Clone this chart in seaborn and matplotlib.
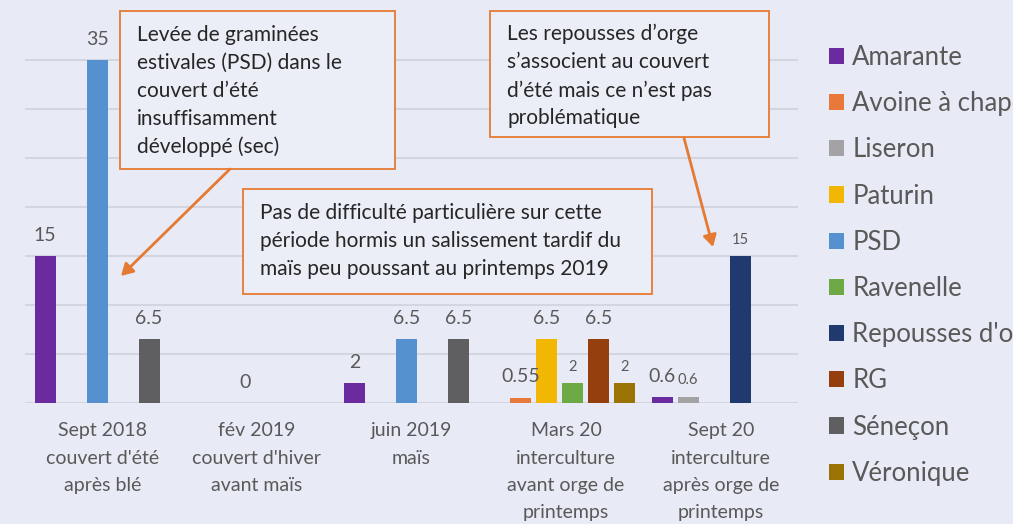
import pandas as pd
import matplotlib.pyplot as plt
import seaborn as sns
from matplotlib.patches import Rectangle, FancyArrowPatch

# Data
groups = ["Sept 2018\ncouvert d'été\naprès blé",
          "fév 2019\ncouvert d'hiver\navant maïs",
          "juin 2019\nmaïs",
          "Mars 20\ninterculture\navant orge de\nprintemps",
          "Sept 20\ninterculture\naprès orge de\nprintemps"]
species = ["Amarante", "Avoine à chapelet", "Liseron", "Paturin", "PSD",
           "Ravenelle", "Repousses d'orge", "RG", "Séneçon", "Véronique"]
colors = ["#6B2A9E", "#E8793A", "#A3A3A5", "#F2B705", "#5590CF",
          "#6DAA45", "#20396E", "#963F0E", "#5F5F61", "#9A7304"]

bar_group = [0, 0, 0, 1, 2, 2, 2, 3, 3, 3, 3, 3, 4, 4, 4]
bar_species = ["Amarante", "PSD", "Séneçon",
               "Amarante",
               "Amarante", "PSD", "Séneçon",
               "Avoine à chapelet", "Paturin", "Ravenelle", "RG", "Véronique",
               "Amarante", "Liseron", "Repousses d'orge"]
bar_value = [15, 35, 6.5, 0, 2, 6.5, 6.5, 0.55, 6.5, 2, 6.5, 2, 0.6, 0.6, 15]

# layout: position of each bar inside its group (in bar slots)
bar_slot = [-2.2, -0.2, 1.8, -0.45, -2.2, -0.2, 1.8,
            -1.75, -0.75, 0.25, 1.25, 2.25, -2.25, -1.25, 0.75]
small_label = [False, False, False, False, False, False, False,
               False, False, True, False, True, False, True, True]
SLOT = 0.168

notes = ["Levée de graminées\nestivales (PSD) dans le\ncouvert d’été\ninsuffisamment\ndéveloppé (sec)",
         "Pas de difficulté particulière sur cette\npériode hormis un salissement tardif du\nmaïs peu poussant au printemps 2019",
         "Les repousses d’orge\ns’associent au couvert\nd’été mais ce n’est pas\nproblématique"]

df = pd.DataFrame({"group": bar_group, "species": bar_species,
                   "value": bar_value, "slot": bar_slot})
df["x"] = df["group"] + df["slot"] * SLOT

BG = "#E8EAF5"
BOXBG = "#EBEDF7"
ORANGE = "#E57A33"
GRID = "#D3D5DF"
TXT = "#595959"
W, H = 1013, 524

sns.set_theme(style="whitegrid")
plt.rcParams["font.family"] = ["Lato", "DejaVu Sans"]

fig = plt.figure(figsize=(W / 100, H / 100), dpi=100, facecolor=BG)
ax = fig.add_axes([25 / W, 1 - 403 / H, 773 / W, 391.5 / H])
ax.set_facecolor(BG)

sns.barplot(data=df, x="x", y="value", hue="species", hue_order=species,
            palette=colors, native_scale=True, dodge=False, width=0.81,
            errorbar=None, linewidth=0, saturation=1, ax=ax)

ax.set_xlim(-0.5, 4.5)
ax.set_ylim(0, 40)
ax.set_yticks(range(0, 45, 5))
ax.tick_params(axis="y", labelleft=False, length=0)
ax.grid(axis="y", color=GRID, lw=1.5)
ax.grid(axis="x", visible=False)
for s in ax.spines.values():
    s.set_visible(False)
ax.set_xlabel("")
ax.set_ylabel("")
ax.set_xticks(range(len(groups)), groups)
ax.tick_params(axis="x", length=0, pad=14, labelsize=14, labelcolor=TXT)
plt.setp(ax.get_xticklabels(), linespacing=1.72)

for x, v, sm in zip(df["x"], df["value"], small_label):
    ax.annotate(f"{v:g}", (x, v), xytext=(0, 12 if sm else 15),
                textcoords="offset points", ha="center", va="center",
                fontsize=10.5 if sm else 14, color=TXT)

handles, labels = ax.get_legend_handles_labels()
ax.legend(handles, labels, loc="upper left",
          bbox_to_anchor=(829 / W, 1 - 45 / H), bbox_transform=fig.transFigure,
          frameon=False, fontsize=18.5, labelcolor=TXT, handlelength=0.6,
          handleheight=0.6, handletextpad=0.3, labelspacing=0.825,
          borderaxespad=0, borderpad=0)

# annotation boxes (pixel positions)
boxes = [(120, 11, 395, 169, 137, 25),
         (243, 189, 652, 294, 260, 203),
         (490, 11, 769, 137, 507, 24)]
for (x0, y0, x1, y1, tx, ty), note in zip(boxes, notes):
    fig.add_artist(Rectangle((x0 / W, 1 - y1 / H), (x1 - x0) / W, (y1 - y0) / H,
                             transform=fig.transFigure, facecolor=BOXBG,
                             edgecolor=ORANGE, lw=1.3))
    fig.text(tx / W, 1 - ty / H, note, ha="left", va="top", fontsize=15,
             linespacing=1.49, color="#262626")

for (xa, ya), (xb, yb) in [((230, 169), (121, 276)), ((684, 138), (713, 247))]:
    fig.add_artist(FancyArrowPatch((xa / W, 1 - ya / H), (xb / W, 1 - yb / H),
                                   transform=fig.transFigure,
                                   arrowstyle="-|>,head_length=7,head_width=4",
                                   color=ORANGE, lw=2, shrinkA=0, shrinkB=0))

fig.savefig("out.png", dpi=100, facecolor=BG)
